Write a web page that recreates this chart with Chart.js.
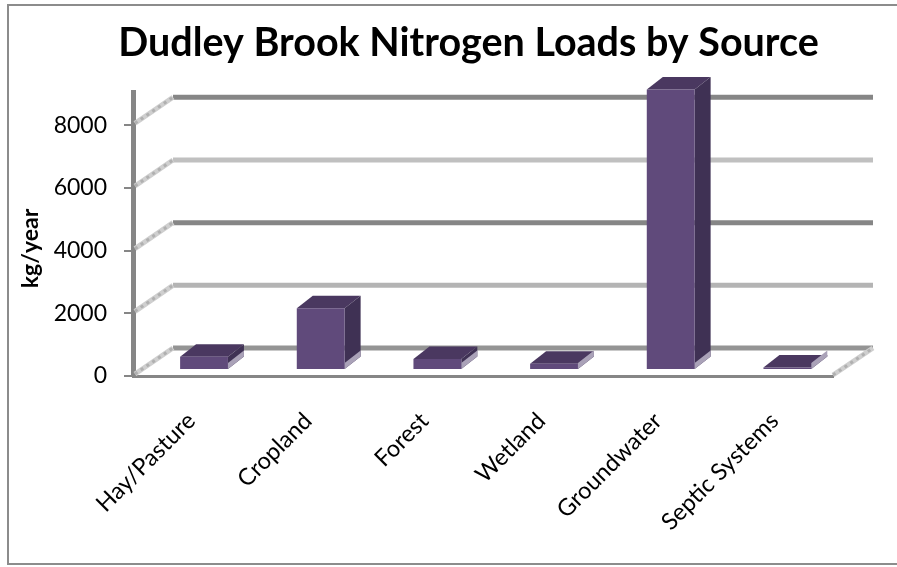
<!DOCTYPE html>
<html lang="en">
<head>
  <meta charset="UTF-8" />
  <title>Dudley Brook Nitrogen Loads by Source</title>
  <script src="https://cdn.jsdelivr.net/npm/chart.js"></script>
  <style>
    body { margin: 0; background: white; }
    #frame {
      position: absolute; left: 0; top: 0; width: 897px; height: 567px;
    }
    #frame:before {
      content: ""; position: absolute; left: 7px; top: 4px; right: 0; bottom: 2px;
      border: solid #8c8c8c; border-width: 2px 0 2px 2px;
    }
    canvas { position: absolute; left: 0; top: 0; }
  </style>
</head>
<body>
  <div id="frame"><canvas id="loads" width="897" height="567"></canvas></div>

  <script>
    const sources = ['Hay/Pasture', 'Cropland', 'Forest', 'Wetland', 'Groundwater', 'Septic Systems'];
    const loads = [420, 1970, 350, 200, 8950, 80];
    const yTicks = [0, 2000, 4000, 6000, 8000];
    const yTop = 9050;
    const yLabel = 'kg/year';
    const wallColors = ['#949494', '#b4b4b4', '#868686', '#c0c0c0', '#868686'];

    // fake Excel 3D look: wall is shifted back by this much, bars sit part way in
    const wall = { dx: 40, dy: -28 };
    const barShift = { dx: 12.7, dy: -6 };
    const barDepth = { dx: 16, dy: -12.5 };

    const depth3d = {
      id: 'depth3d',
      afterLayout(chart) {
        // title is centred over the whole frame, not the padded area
        chart.titleBlock.left += 52;
        chart.titleBlock.right += 52;
      },
      beforeDatasetsDraw(chart) {
        const { ctx, chartArea: a, scales: { y } } = chart;
        ctx.save();
        y.ticks.forEach((t, i) => {
          const py = y.getPixelForValue(t.value);
          // back wall line
          ctx.strokeStyle = wallColors[i];
          ctx.lineWidth = 5;
          ctx.beginPath();
          ctx.moveTo(a.left + wall.dx, py + wall.dy);
          ctx.lineTo(a.right + wall.dx, py + wall.dy);
          ctx.stroke();
          // side wall, hatched
          hatch(ctx, a.left + 2, py - 2, a.left + wall.dx, py + wall.dy);
        });
        hatch(ctx, a.right, a.bottom - 1, a.right + wall.dx, a.bottom + wall.dy);
        ctx.restore();
      },
      beforeDatasetDraw(chart, args) {
        const { ctx } = chart;
        ctx.save();
        ctx.translate(barShift.dx, barShift.dy);
        args.meta.data.forEach(bar => {
          const l = bar.x - bar.width / 2, r = bar.x + bar.width / 2;
          const { dx, dy } = barDepth;
          // top face
          face(ctx, '#4a3860', [[l, bar.y], [r, bar.y], [r + dx, bar.y + dy], [l + dx, bar.y + dy]]);
          // side face
          face(ctx, '#3f3154', [[r, bar.y], [r + dx, bar.y + dy], [r + dx, bar.base + dy], [r, bar.base]]);
          // pale strip at the foot of the side face
          const h = Math.min(6, bar.base - bar.y + 5);
          face(ctx, '#aaa2b8', [[r, bar.base], [r + dx, bar.base + dy], [r + dx, bar.base + dy - h], [r, bar.base - h]]);
        });
      },
      afterDatasetDraw(chart) {
        chart.ctx.restore();
      },
      afterDraw(chart) {
        // axis label sits lower than the scale title option would put it
        const { ctx } = chart;
        ctx.save();
        ctx.translate(31, 248.5);
        ctx.rotate(-Math.PI / 2);
        ctx.textAlign = 'center';
        ctx.textBaseline = 'middle';
        ctx.fillStyle = '#000';
        ctx.font = 'bold 23px Lato';
        ctx.fillText(yLabel, 0, 0);
        ctx.restore();
      }
    };

    function face(ctx, color, pts) {
      ctx.fillStyle = color;
      ctx.beginPath();
      pts.forEach((p, i) => i ? ctx.lineTo(p[0], p[1]) : ctx.moveTo(p[0], p[1]));
      ctx.closePath();
      ctx.fill();
    }

    function hatch(ctx, x1, y1, x2, y2) {
      ctx.lineWidth = 5;
      ctx.strokeStyle = '#cfcfcf';
      ctx.setLineDash([]);
      ctx.beginPath(); ctx.moveTo(x1, y1); ctx.lineTo(x2, y2); ctx.stroke();
      ctx.lineWidth = 3;
      ctx.strokeStyle = '#b0b0b0';
      ctx.setLineDash([3, 4]);
      ctx.beginPath(); ctx.moveTo(x1, y1); ctx.lineTo(x2, y2); ctx.stroke();
      ctx.setLineDash([]);
    }

    new Chart(document.getElementById('loads'), {
      type: 'bar',
      data: {
        labels: sources,
        datasets: [{
          data: loads,
          backgroundColor: '#604a7b',
          categoryPercentage: 1,
          barPercentage: 0.41
        }]
      },
      plugins: [depth3d],
      options: {
        responsive: false,
        animation: false,
        layout: { padding: { left: 0, right: 64, top: 0, bottom: 0 } },
        plugins: {
          legend: { display: false },
          tooltip: { enabled: false },
          title: {
            display: true,
            text: 'Dudley Brook Nitrogen Loads by Source',
            color: '#000',
            font: { family: 'Lato', size: 39.5, weight: 'bold' },
            padding: { top: 20, bottom: 25 }
          }
        },
        scales: {
          x: {
            afterFit: s => { s.height = 191; },
            grid: { drawOnChartArea: false, drawTicks: false },
            border: { color: '#868686', width: 3 },
            ticks: {
              color: '#000',
              font: { family: 'Lato', size: 23.5 },
              minRotation: 45,
              maxRotation: 45,
              padding: 31
            }
          },
          y: {
            min: 0,
            max: yTop,
            afterFit: s => { s.width = 133; },
            afterBuildTicks: s => { s.ticks = yTicks.map(value => ({ value })); },
            grid: { drawOnChartArea: false, color: '#868686', lineWidth: 2, tickLength: 9 },
            border: { color: '#868686', width: 5 },
            ticks: {
              color: '#000',
              font: { family: 'Lato', size: 23 },
              padding: 17,
              callback: v => String(v)
            }
          }
        }
      }
    });
  </script>
</body>
</html>
